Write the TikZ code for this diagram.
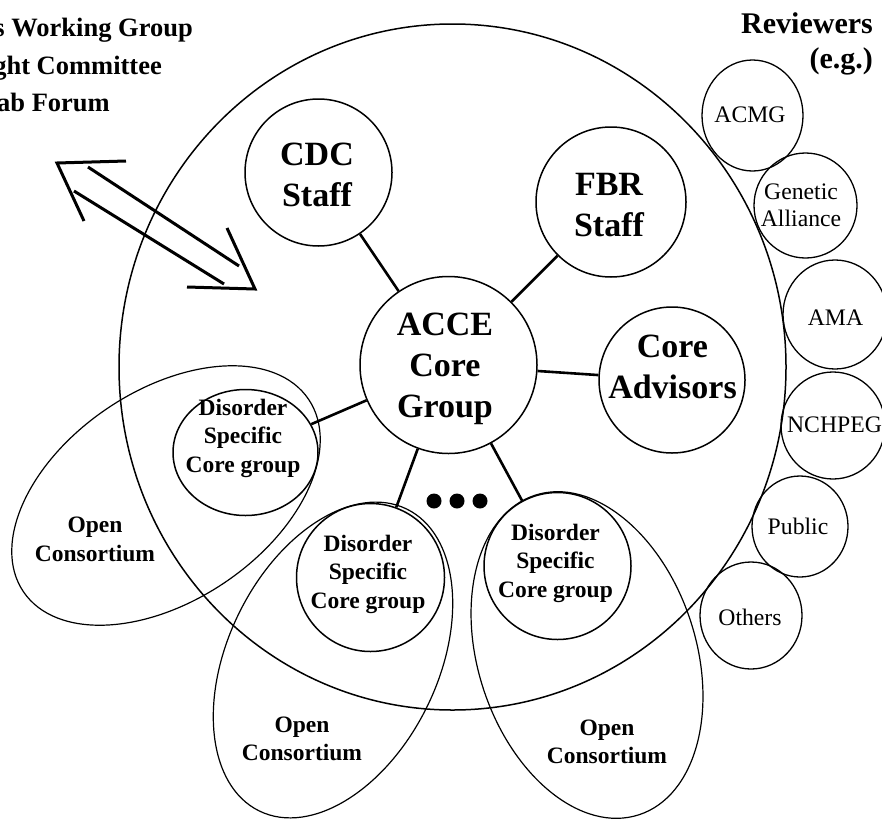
\documentclass[tikz,border=0pt]{standalone}
\usepackage{fontspec}
\setmainfont{Liberation Serif}
\usetikzlibrary{shapes.geometric}
\begin{document}
\begin{tikzpicture}[x=1pt,y=-1pt,
  circ/.style={draw, circle, line width=1.5pt, inner sep=0pt, minimum size=#1},
  ecirc/.style={draw, ellipse, line width=1.5pt, inner sep=0pt},
  revc/.style={draw, ellipse, line width=1.3pt, inner sep=0pt},
  oval/.style={draw, ellipse, line width=1.2pt, inner sep=0pt, minimum width=#1},
  conn/.style={line width=2.6pt},
  arr/.style={line width=3pt, line join=miter},
  bigt/.style={font=\fontsize{34}{41}\selectfont\bfseries, align=center, inner sep=0pt},
  midt/.style={font=\fontsize{23.5}{28.5}\selectfont\bfseries, align=center, inner sep=0pt},
  revt/.style={font=\fontsize{23.7}{27}\selectfont, align=center, inner sep=0pt},
  topt/.style={font=\fontsize{26.5}{37}\selectfont\bfseries, inner sep=0pt, anchor=base east},
  dot/.style={fill=black, circle, inner sep=0pt, minimum size=15pt}
]
\useasboundingbox (0,0) rectangle (882,819);
\clip (0,0) rectangle (882,819);

% outer circle
\node[draw, ellipse, line width=1.5pt, inner sep=0pt, minimum width=667pt, minimum height=686pt] (outer) at (452.5,367) {};

% open consortium ovals
\node[oval=344pt, minimum height=210pt, rotate=34] (ocl) at (166,495.5) {};
\node[oval=336pt, minimum height=210pt, rotate=64] (ocm) at (333,660) {};
\node[oval=336pt, minimum height=218pt, rotate=108] (ocr) at (587,655) {};

% core circles
\node[circ=147pt] (cdc) at (318.5,172.5) {};
\node[circ=150pt] (fbr) at (611,202) {};
\node[circ=177pt] (acce) at (448.5,365) {};
\node[circ=146pt] (adv) at (672,380) {};
\node[ecirc, minimum width=145pt, minimum height=126pt] (dsl) at (245.5,452.5) {};
\node[circ=148pt] (dsm) at (370.5,577.5) {};
\node[circ=147pt] (dsr) at (557.5,566) {};

% connectors
\draw[conn] (acce) -- (cdc);
\draw[conn] (acce) -- (fbr);
\draw[conn] (acce) -- (adv);
\draw[conn] (acce) -- (dsl);
\draw[conn] (acce) -- (dsm);
\draw[conn] (acce) -- (dsr);

% dots
\node[dot] (d1) at (434,501) {};
\node[dot] (d2) at (457,501) {};
\node[dot] (d3) at (480,501) {};

% texts in circles
\node[bigt] (cdct) at (317,175) {CDC\\Staff};
\node[bigt] (fbrt) at (609,205) {FBR\\Staff};
\node[bigt] (accet) at (445,369) {ACCE\\Core\\Group};
\node[bigt] (advt) at (672.5,367) {Core\\Advisors};
\node[midt] (dslt) at (243,438) {Disorder\\Specific\\Core group};
\node[midt] (dsmt) at (368,574) {Disorder\\Specific\\Core group};
\node[midt] (dsrt) at (555.5,563) {Disorder\\Specific\\Core group};
\node[midt] (oclt) at (95,539.5) {Open\\Consortium};
\node[midt] (ocmt) at (302,739) {Open\\Consortium};
\node[midt] (ocrt) at (607,742) {Open\\Consortium};

% reviewers
\node[font=\fontsize{30}{35}\selectfont\bfseries, align=right, inner sep=0pt, anchor=east] (revh) at (873,43.6) {Reviewers\\(e.g.)};
\node[revc, minimum width=101pt, minimum height=111pt] (acmg) at (752.5,115.5) {};
\node[revc, minimum width=103pt, minimum height=105pt] (gen) at (805.5,205.5) {};
\node[revc, minimum width=104pt, minimum height=109pt] (ama) at (835,314.5) {};
\node[revc, minimum width=104pt, minimum height=107pt] (nch) at (833,425.5) {};
\node[revc, minimum width=96pt, minimum height=101pt] (pub) at (800,526.5) {};
\node[revc, minimum width=102pt, minimum height=107pt] (oth) at (751,615.5) {};
\node[revt, anchor=base] (acmgt) at (750,122.7) {ACMG};
\node[revt] (gent) at (801,205.5) {Genetic\\Alliance};
\node[revt, anchor=base] (amat) at (835.5,325) {AMA};
\node[revt, anchor=base] (ncht) at (834.5,432) {NCHPEG};
\node[revt, anchor=base] (pubt) at (798,534) {Public};
\node[revt, anchor=base] (otht) at (750,625) {Others};

% top-left text (cut at edge, as in the reference)
\node[topt] (l2) at (193,36) {s Working Group};
\node[topt] (l3) at (162,74) {ght Committee};
\node[topt] (l4) at (110,111) {ab Forum};

% double arrow
\coordinate (a1) at (88,167); \coordinate (a2) at (239,266);
\coordinate (b1) at (74,191); \coordinate (b2) at (224,284);
\coordinate (t1) at (57,163); \coordinate (t1a) at (126,161); \coordinate (t1b) at (84,221);
\coordinate (t2) at (255,289); \coordinate (t2a) at (187,287); \coordinate (t2b) at (227,228);
\draw[arr] (a1) -- (a2);
\draw[arr] (b1) -- (b2);
\draw[arr] (t1a) -- (t1) -- (t1b);
\draw[arr] (t2a) -- (t2) -- (t2b);
\end{tikzpicture}
\end{document}
